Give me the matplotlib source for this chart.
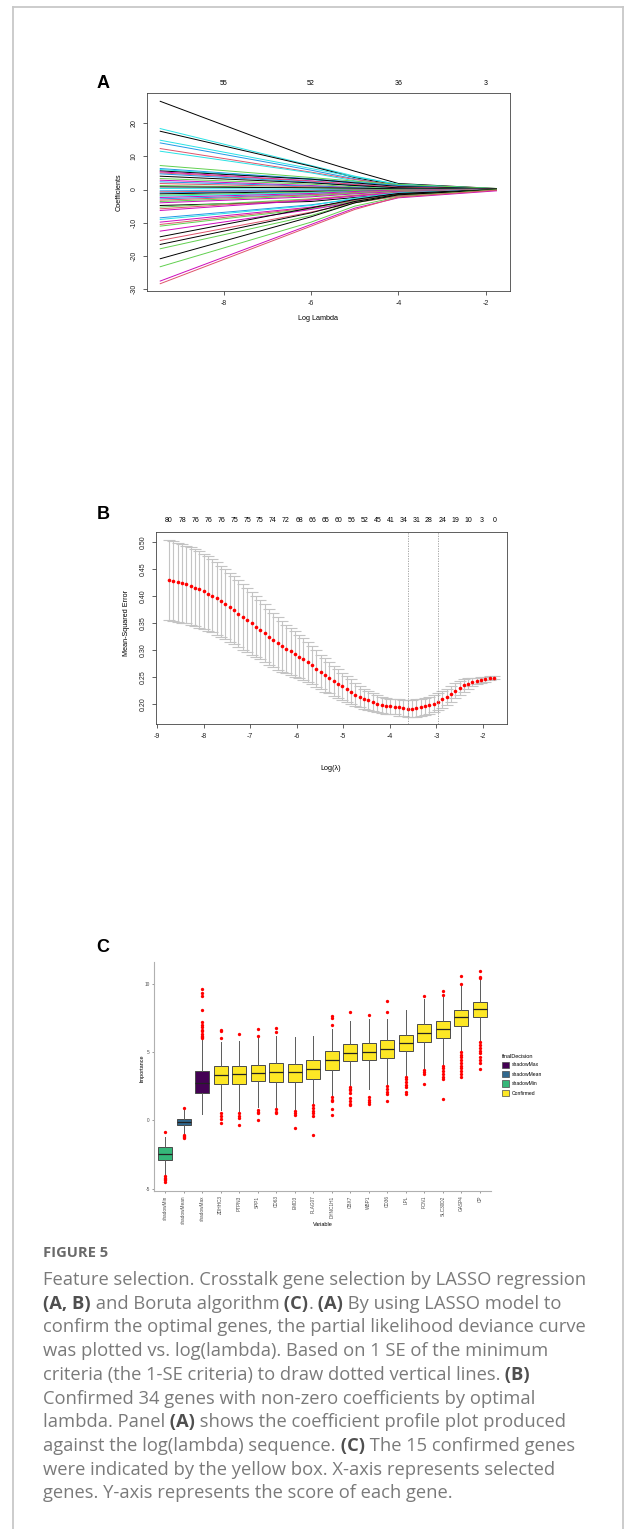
import numpy as np
import matplotlib.pyplot as plt
from matplotlib.patches import Patch
from matplotlib.lines import Line2D

plt.rcParams['font.family'] = ['Liberation Sans', 'DejaVu Sans']
plt.rcParams['axes.unicode_minus'] = False

W, H = 625, 1529

# ---------------- panel A: LASSO coefficient paths ----------------
path_x = [-9.46, -6.0, -5.0, -4.0, -1.75]
coef_col = ['k', 'c', 'k', 'c', 'b', 'r', 'c', 'g', 'b', 'c', 'k', 'm', 'r', 'b',
            'k', 'g', 'm', 'b', 'r', 'g', 'k', 'c', 'b', 'r', 'b', 'k', 'g', 'c',
            'm', 'b', 'r', 'g', 'm', 'k', 'g', 'r', 'm', 'b', 'c', 'm', 'r', 'g',
            'm', 'k', 'r', 'k', 'g', 'k', 'g', 'm', 'r']
coef_start = [26.5, 18.3, 17.5, 14.8, 14.0, 12.3, 11.5, 7.2, 6.3, 6.0, 5.6, 5.3,
              5.0, 4.7, 4.0, 3.3, 2.8, 2.3, 1.8, 1.2, 0.8, 0.3, -0.4, -0.7, -1.0,
              -1.3, -1.7, -2.0, -2.4, -2.8, -3.2, -3.6, -4.0, -4.8, -5.3, -5.8,
              -6.3, -8.5, -9.0, -9.8, -10.5, -11.0, -12.5, -14.2, -15.3, -16.5,
              -17.8, -20.8, -23.2, -27.5, -28.3]
coef_at6 = [9.5, 7.2, 7.0, 6.3, 5.8, 5.2, 5.0, 3.6, 3.2, 3.0, 3.1, 2.6, 2.5, 2.2,
            2.0, 1.6, 1.2, 1.0, 0.8, 0.5, 0.5, 0.1, -0.2, -0.3, -0.5, -0.6, -0.8,
            -1.0, -1.2, -1.5, -1.6, -1.9, -2.2, -3.6, -2.8, -3.0, -3.2, -4.6,
            -4.8, -5.3, -5.5, -5.8, -6.0, -5.5, -6.8, -7.0, -7.8, -8.2, -9.8,
            -10.5, -11.0]
coef_at5 = [5.5, 4.0, 3.6, 3.8, 3.2, 3.0, 2.6, 2.5, 2.2, 1.8, 2.0, 1.5, 1.5, 1.1,
            1.2, 0.8, 0.5, 0.5, 0.3, 0.2, 0.4, 0.05, -0.1, -0.1, -0.3, -0.4, -0.3,
            -0.6, -0.6, -0.9, -0.9, -1.1, -1.3, -2.4, -1.7, -1.8, -2.0, -2.9,
            -2.6, -3.4, -3.2, -3.5, -3.8, -3.0, -4.0, -3.6, -4.0, -4.0, -5.0,
            -5.6, -6.0]
coef_at4 = [1.8, 1.5, 1.2, 1.6, 1.0, 1.3, 0.8, 1.5, 1.2, 0.8, 0.9, 0.6, 0.7, 0.3,
            0.5, 0.2, 0.0, 0.1, 0.0, 0.0, 0.2, 0.0, 0.0, 0.0, -0.1, -0.2, 0.0,
            -0.3, -0.2, -0.4, -0.3, -0.5, -0.6, -1.3, -0.8, -0.9, -1.0, -1.5,
            -1.0, -1.8, -1.4, -1.6, -1.9, -1.2, -2.0, -1.5, -1.7, -1.6, -2.2,
            -2.5, -2.3]
coef_end = [0.3, 0.2, 0.1, 0.2, 0.0, 0.1, 0.0, 0.3, 0.0, 0.0, 0.2, 0.0, 0.0, 0.0,
            0.0, 0.0, 0.0, 0.0, 0.0, 0.0, 0.0, 0.0, 0.0, 0.0, 0.0, 0.0, 0.0, 0.0,
            0.0, 0.0, 0.0, 0.0, 0.0, -0.1, 0.0, 0.0, 0.0, 0.0, 0.0, -0.1, 0.0,
            0.0, -0.2, 0.0, 0.0, 0.0, 0.0, 0.0, -0.1, -0.4, -0.2]
a_top_at = [-8, -6, -4, -2]
a_top_lab = ['55', '52', '36', '3']
r_pal = {'k': 'black', 'r': '#DF536B', 'g': '#61D04F', 'b': '#2297E6',
         'c': '#28E2E5', 'm': '#CD0BBC'}

# ---------------- panel B: cross-validation curve ----------------
log_lam = [-8.74, -8.65, -8.55, -8.46, -8.37, -8.27, -8.18, -8.09, -7.99, -7.90,
           -7.81, -7.72, -7.62, -7.53, -7.44, -7.34, -7.25, -7.16, -7.06, -6.97,
           -6.88, -6.79, -6.69, -6.60, -6.51, -6.41, -6.32, -6.23, -6.13, -6.04,
           -5.95, -5.86, -5.76, -5.67, -5.58, -5.48, -5.39, -5.30, -5.20, -5.11,
           -5.02, -4.92, -4.83, -4.74, -4.64, -4.55, -4.46, -4.37, -4.27, -4.18,
           -4.09, -3.99, -3.90, -3.81, -3.71, -3.62, -3.53, -3.43, -3.34, -3.25,
           -3.16, -3.06, -2.97, -2.88, -2.78, -2.69, -2.60, -2.50, -2.41, -2.32,
           -2.23, -2.13, -2.04, -1.95, -1.85, -1.76]
cv_mean = [0.430, 0.428, 0.426, 0.424, 0.422, 0.419, 0.416, 0.413, 0.409, 0.405,
           0.401, 0.396, 0.391, 0.386, 0.380, 0.374, 0.368, 0.362, 0.356, 0.350,
           0.344, 0.338, 0.332, 0.325, 0.319, 0.313, 0.307, 0.302, 0.298, 0.293,
           0.288, 0.283, 0.278, 0.272, 0.266, 0.260, 0.254, 0.249, 0.243, 0.238,
           0.233, 0.228, 0.223, 0.218, 0.214, 0.210, 0.207, 0.204, 0.201, 0.199,
           0.197, 0.196, 0.195, 0.194, 0.193, 0.192, 0.192, 0.193, 0.194, 0.196,
           0.198, 0.201, 0.205, 0.209, 0.214, 0.219, 0.225, 0.230, 0.235, 0.238,
           0.241, 0.243, 0.245, 0.246, 0.248, 0.249]
cv_se = [0.074, 0.074, 0.073, 0.073, 0.072, 0.072, 0.071, 0.071, 0.070, 0.069,
         0.068, 0.067, 0.066, 0.065, 0.064, 0.063, 0.062, 0.061, 0.060, 0.058,
         0.057, 0.055, 0.054, 0.052, 0.050, 0.049, 0.047, 0.045, 0.044, 0.042,
         0.040, 0.039, 0.037, 0.035, 0.034, 0.032, 0.031, 0.029, 0.028, 0.027,
         0.025, 0.024, 0.023, 0.021, 0.020, 0.019, 0.018, 0.017, 0.016, 0.015,
         0.015, 0.014, 0.014, 0.015, 0.015, 0.015, 0.016, 0.016, 0.016, 0.016,
         0.016, 0.016, 0.016, 0.016, 0.015, 0.015, 0.014, 0.013, 0.012, 0.010,
         0.008, 0.006, 0.005, 0.004, 0.004, 0.003]
nz_lab = ['80', '78', '76', '76', '76', '75', '75', '75', '74', '72', '68', '66',
          '65', '60', '56', '52', '45', '41', '34', '31', '28', '24', '19', '10',
          '3', '0']
lam_min = -3.62
lam_1se = -2.97

# ---------------- panel C: Boruta importance ----------------
genes = ['shadowMin', 'shadowMean', 'shadowMax', 'ZDHHC3', 'PTPN3', 'SPP1', 'CD63',
         'EMD3', 'PLAG07', 'DYNC1H1', 'CBX7', 'WBP1', 'CD36', 'LPL', 'FCN1',
         'SLC30D2', 'GASP4', 'CP']
decision = ['shadowMin', 'shadowMean', 'shadowMax'] + ['Confirmed'] * 15
imp_q1 = [-2.88, -0.37, 2.02, 2.68, 2.68, 2.85, 2.80, 2.80, 3.05, 3.70, 4.32, 4.39,
          4.56, 5.05, 5.73, 6.02, 6.93, 7.56]
imp_med = [-2.49, -0.12, 2.76, 3.34, 3.37, 3.49, 3.54, 3.56, 3.73, 4.39, 4.95,
           5.02, 5.22, 5.68, 6.39, 6.68, 7.56, 8.17]
imp_q3 = [-1.98, 0.12, 3.61, 3.98, 3.95, 4.02, 4.20, 4.15, 4.39, 5.05, 5.56, 5.66,
          5.85, 6.27, 7.05, 7.24, 8.10, 8.66]
imp_lo = [-4.02, -0.98, 0.49, 0.73, 0.60, 1.00, 1.00, 0.85, 1.20, 1.83, 2.56, 2.30,
          2.68, 3.30, 3.78, 4.15, 5.12, 5.85]
imp_hi = [-1.20, 0.78, 5.90, 5.73, 5.80, 6.00, 6.20, 6.10, 6.15, 6.70, 7.24, 7.44,
          7.44, 8.05, 8.90, 9.15, 9.93, 10.24]
imp_out = [
    [-0.85, -4.10, -4.20, -4.30, -4.40, -4.50],
    [0.93, -1.10, -1.15, -1.20, -1.27],
    [6.0, 6.1, 6.2, 6.3, 6.5, 6.6, 6.8, 7.0, 7.2, 8.1, 9.1, 9.3, 9.6],
    [6.0, 6.5, 6.6, 0.5, 0.3, 0.1, -0.2],
    [6.34, 0.5, 0.3, 0.2, -0.37],
    [6.66, 6.15, 0.78, 0.6, 0.5, 0.05],
    [6.78, 6.46, 0.8, 0.6, 0.5],
    [0.7, 0.5, 0.4, -0.56],
    [1.1, 0.9, 0.7, 0.5, 0.3, -1.05],
    [6.95, 7.5, 7.6, 1.7, 1.5, 1.4, 0.85, 0.4],
    [7.9, 2.4, 2.3, 2.2, 2.0, 1.6, 1.4, 1.2, 1.1],
    [7.7, 1.7, 1.5, 1.3, 1.2],
    [7.9, 8.73, 2.5, 2.3, 2.1, 1.95, 1.41],
    [3.2, 3.0, 2.8, 2.6, 2.4, 2.1, 1.9],
    [9.1, 3.7, 3.5, 3.4, 2.63],
    [9.46, 9.2, 4.0, 3.8, 3.6, 3.4, 3.2, 3.0, 1.59],
    [10.54, 10.0, 5.0, 4.8, 4.6, 4.4, 4.2, 4.0, 3.8, 3.6, 3.4, 3.2],
    [10.9, 10.5, 10.4, 5.7, 5.5, 5.3, 5.1, 4.9, 4.6, 4.4, 4.2, 3.78],
]
legend_order = ['shadowMax', 'shadowMean', 'shadowMin', 'Confirmed']
dec_col = {'shadowMax': '#440154', 'shadowMean': '#31688E',
           'shadowMin': '#35B779', 'Confirmed': '#FDE725'}


def rect(x0, y0, x1, y1):
    # pixel box (top-left origin) -> figure fraction rect
    return [x0 / W, 1 - y1 / H, (x1 - x0) / W, (y1 - y0) / H]


def fx(x):
    return x / W


def fy(y):
    return 1 - y / H


fig = plt.figure(figsize=(W / 100, H / 100), dpi=100)

# frame around the figure
frame_kw = dict(color='#c8c8c8', lw=1.3, transform=fig.transFigure)
fig.add_artist(Line2D([fx(12.7), fx(12.7)], [fy(7.3), 0], **frame_kw))
fig.add_artist(Line2D([fx(623.3), fx(623.3)], [fy(7.3), 0], **frame_kw))
fig.add_artist(Line2D([fx(12.7), fx(623.3)], [fy(7.3), fy(7.3)], **frame_kw))

# ---- A ----
ax = fig.add_axes(rect(146.7, 93.3, 510, 290.7))
for i in range(len(coef_start)):
    ax.plot(path_x, [coef_start[i], coef_at6[i], coef_at5[i], coef_at4[i],
                     coef_end[i]],
            color=r_pal[coef_col[i]], lw=0.7)
ax.set_xlim(-9.77, -1.44)
ax.set_ylim(-30.4, 28.9)
ax.set_xticks([-8, -6, -4, -2])
ax.set_yticks([-30, -20, -10, 0, 10, 20])
ax.set_yticklabels(['-30', '-20', '-10', '0', '10', '20'], rotation=90, va='center')
ax.tick_params(labelsize=5, length=3, width=0.5, pad=3.5, colors='#222')
for s in ax.spines.values():
    s.set_color('#444')
    s.set_linewidth(0.6)
for x, lab in zip(a_top_at, a_top_lab):
    ax.annotate(lab, (x, 1), xycoords=('data', 'axes fraction'), xytext=(0, 7.4),
                textcoords='offset points', ha='center', va='center', fontsize=5)
fig.text(fx(318), fy(319), 'Log Lambda', ha='center', va='center', fontsize=5.2)
fig.text(fx(119.3), fy(192), 'Coefficients', ha='center', va='center',
         rotation=90, fontsize=5.2)
fig.text(fx(103), fy(83), 'A', ha='center', va='center', fontsize=13,
         fontweight='bold')

# ---- B ----
ax = fig.add_axes(rect(156, 532.3, 507.3, 724))
ax.errorbar(log_lam, cv_mean, yerr=cv_se, fmt='none', ecolor='#c4c4c4',
            elinewidth=0.8, capsize=4.3, capthick=0.8)
ax.plot(log_lam, cv_mean, 'o', color='red', ms=2.6, mec='none')
ax.axvline(lam_min, color='#9a9a9a', lw=0.6, ls=(0, (1.5, 1.5)))
ax.axvline(lam_1se, color='#9a9a9a', lw=0.6, ls=(0, (1.5, 1.5)))
ax.set_xlim(-9.02, -1.48)
ax.set_ylim(0.1634, 0.5185)
ax.set_xticks(range(-9, -1))
ax.set_yticks([0.20, 0.25, 0.30, 0.35, 0.40, 0.45, 0.50])
ax.set_yticklabels(['0.20', '0.25', '0.30', '0.35', '0.40', '0.45', '0.50'],
                   rotation=90, va='center')
ax.tick_params(labelsize=5, length=3, width=0.5, pad=3.5, colors='#222')
for s in ax.spines.values():
    s.set_color('#444')
    s.set_linewidth(0.6)
for k, lab in enumerate(nz_lab):
    ax.annotate(lab, (log_lam[3 * k], 1), xycoords=('data', 'axes fraction'),
                xytext=(0, 8.4), textcoords='offset points', ha='center',
                va='center', fontsize=5)
fig.text(fx(331), fy(769), 'Log(\u03bb)', ha='center', va='center', fontsize=5.2)
fig.text(fx(126.7), fy(623), 'Mean-Squared Error', ha='center', va='center',
         rotation=90, fontsize=5.2)
fig.text(fx(103), fy(515), 'B', ha='center', va='center', fontsize=13,
         fontweight='bold')

# ---- C ----
ax = fig.add_axes(rect(154, 961.7, 491, 1191.3))
stats = []
for i in range(len(genes)):
    stats.append(dict(q1=imp_q1[i], med=imp_med[i], q3=imp_q3[i],
                      whislo=imp_lo[i], whishi=imp_hi[i], fliers=imp_out[i]))
bp = ax.bxp(stats, positions=range(len(genes)), widths=0.75, patch_artist=True,
            showcaps=False,
            boxprops=dict(edgecolor='#4a4a4a', linewidth=0.7),
            medianprops=dict(color='#222', linewidth=0.9),
            whiskerprops=dict(color='#5a5a5a', linewidth=0.7),
            flierprops=dict(marker='o', markerfacecolor='red', markeredgecolor='none',
                            markersize=2.4))
for patch, d in zip(bp['boxes'], decision):
    patch.set_facecolor(dec_col[d])
ax.set_xlim(-0.6, len(genes) - 0.4)
ax.set_ylim(-5.2, 11.6)
ax.set_xticks(range(len(genes)))
ax.set_xticklabels(genes, rotation=90, fontsize=3.4, color='#4d4d4d')
ax.set_yticks([-5, 0, 5, 10])
ax.set_yticklabels(['-5', '0', '5', '10'], fontsize=3.4, color='#4d4d4d')
ax.tick_params(length=1.5, width=0.4, pad=1.5, colors='#4d4d4d')
for s in ['top', 'right']:
    ax.spines[s].set_visible(False)
for s in ['left', 'bottom']:
    ax.spines[s].set_color('#b0b0b0')
    ax.spines[s].set_linewidth(0.8)
fig.text(fx(323), fy(1224), 'Variable', ha='center', va='center', fontsize=4)
fig.text(fx(141.7), fy(1068), 'Importance', ha='center', va='center',
         rotation=90, fontsize=4)
fig.text(fx(103), fy(948), 'C', ha='center', va='center', fontsize=13,
         fontweight='bold')
handles = [Patch(facecolor=dec_col[d], edgecolor='#4a4a4a', linewidth=0.5)
           for d in legend_order]
ax.legend(handles, legend_order, title='finalDecision', loc='upper left',
          bbox_to_anchor=(fx(497), fy(1049)), bbox_transform=fig.transFigure,
          frameon=False, fontsize=3.6, title_fontsize=4, handlelength=1.5,
          handleheight=1.6, labelspacing=0.6, handletextpad=0.6,
          alignment='left')

# ---- caption ----
fig.text(fx(43), fy(1253), 'FIGURE 5', fontsize=10.6, color='#6a6a6a',
         family=['Open Sans', 'DejaVu Sans'], fontweight='bold',
         ha='left', va='center')
caption = [
    [('Feature selection. Crosstalk gene selection by LASSO regression', 0)],
    [('(A, B)', 1), (' and Boruta algorithm', 0), (' (C)', 1), ('.', 0),
     (' (A)', 1), (' By using LASSO model to', 0)],
    [('confirm the optimal genes, the partial likelihood deviance curve', 0)],
    [('was plotted vs. log(lambda). Based on 1 SE of the minimum', 0)],
    [('criteria (the 1-SE criteria) to draw dotted vertical lines.', 0),
     (' (B)', 1)],
    [('Confirmed 34 genes with non-zero coefficients by optimal', 0)],
    [('lambda. Panel', 0), (' (A)', 1),
     (' shows the coefficient profile plot produced', 0)],
    [('against the log(lambda) sequence.', 0), (' (C)', 1),
     (' The 15 confirmed genes', 0)],
    [('were indicated by the yellow box. X-axis represents selected', 0)],
    [('genes. Y-axis represents the score of each gene.', 0)],
]
renderer = fig.canvas.get_renderer()
for li, parts in enumerate(caption):
    x = 43.0
    y = 1280 + 23.7 * li
    for text, bold in parts:
        t = fig.text(fx(x), fy(y), text, fontsize=13.2,
                     family=['Open Sans', 'DejaVu Sans'],
                     fontweight='bold' if bold else 'normal',
                     color='#4f4f4f' if bold else '#7a7a7a',
                     ha='left', va='center')
        x += t.get_window_extent(renderer).width

fig.savefig('out.png', dpi=100)
